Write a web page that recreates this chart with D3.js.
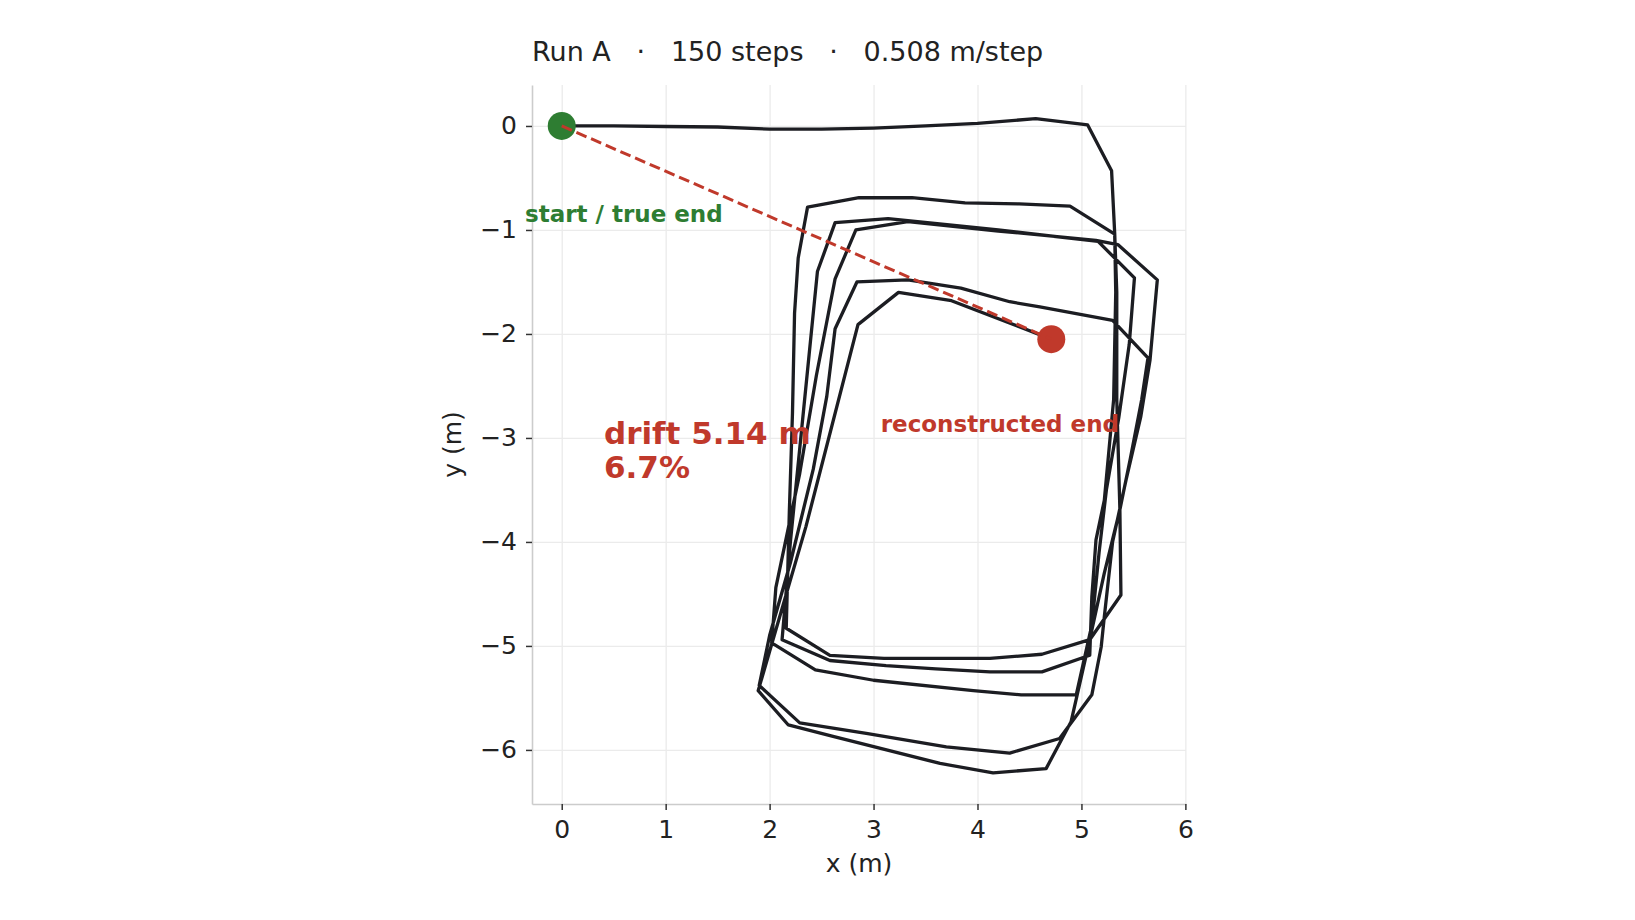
<html lang="en">
    <head>
        <meta charset="utf-8">
        <title>Run A drift</title>
        <style>
            body {
                margin: 0;
                background-color: white;
            }
            svg text {
                font-family: "DejaVu Sans", sans-serif;
                fill: #222222;
            }
            .grid line {
                stroke: #ebebeb;
                stroke-width: 1.3;
            }
            .grid path {
                display: none;
            }
            .axis path {
                stroke: #cccccc;
                stroke-width: 1.6;
            }
            .axis line {
                stroke: #333333;
                stroke-width: 1.5;
            }
            .axis text {
                font-size: 25px;
            }
            .track {
                fill: none;
                stroke: #1c1d22;
                stroke-width: 3.3;
                stroke-linejoin: round;
            }
        </style>
    </head>

    <body>
    </body>

    <script type="text/javascript" src="https://cdnjs.cloudflare.com/ajax/libs/d3/7.8.5/d3.min.js"></script>

    <script type="text/javascript">
// chart data (metres)
var title = "Run A   \u00b7   150 steps   \u00b7   0.508 m/step";
var xTicks = [0, 1, 2, 3, 4, 5, 6];
var yTicks = [0, -1, -2, -3, -4, -5, -6];

// reconstructed walk, one point per vertex
var pathX = [0, 0.5, 1.0, 1.5, 2.0, 2.5, 3.0, 3.5, 4.0, 4.56, 5.06,
             5.29, 5.32, 5.34, 5.34, 5.37, 5.38,
             5.08, 4.62, 4.12, 3.6, 3.1, 2.58, 2.16,
             2.19, 2.22, 2.24, 2.275, 2.365,
             2.86, 3.37, 3.88, 4.4, 4.89, 5.32,
             5.33, 5.31, 5.22, 5.14, 5.10, 5.08,
             4.62, 4.12, 3.6, 3.12, 2.58, 2.12,
             2.2, 2.3, 2.38, 2.46, 2.63,
             3.14, 3.33, 4.2, 5.16, 5.51,
             5.46, 5.36, 5.24, 5.17, 5.1, 4.95,
             4.42, 3.96, 3.0, 2.44, 2.02,
             2.06, 2.29, 2.45, 2.63, 2.83,
             3.33, 4.2, 5.14, 5.35, 5.73,
             5.66, 5.57, 5.43, 5.30, 5.22, 5.19, 5.10, 4.79,
             4.31, 3.7, 2.93, 2.29, 1.90,
             2.0, 2.2, 2.42, 2.55, 2.63, 2.84,
             3.33, 3.84, 4.31, 4.6, 5.30, 5.64,
             5.58, 5.47, 5.37, 5.22, 5.08, 4.90, 4.66,
             4.15, 3.64, 2.61, 2.18, 1.89,
             2.35, 2.6, 2.85,
             3.24, 3.75, 4.71];
var pathY = [0, 0, -0.005, -0.01, -0.03, -0.03, -0.02, 0, 0.025, 0.07, 0.01,
             -0.43, -1.03, -1.6, -2.63, -3.69, -4.51,
             -4.94, -5.08, -5.12, -5.12, -5.12, -5.09, -4.83,
             -3.7, -2.76, -1.8, -1.27, -0.78,
             -0.69, -0.69, -0.74, -0.75, -0.77, -1.04,
             -1.6, -2.63, -3.6, -3.98, -4.53, -5.09,
             -5.25, -5.25, -5.22, -5.19, -5.14, -4.94,
             -4.0, -3.0, -2.2, -1.40, -0.93,
             -0.89, -0.91, -1.0, -1.11, -1.46,
             -2.1, -2.8, -3.5, -4.1, -4.8, -5.47,
             -5.47, -5.43, -5.33, -5.23, -4.97,
             -4.44, -3.34, -2.4, -1.47, -1.0,
             -0.92, -1.01, -1.1, -1.14, -1.48,
             -2.25, -2.8, -3.4, -4.0, -4.72, -5.01, -5.47, -5.89,
             -6.03, -5.97, -5.84, -5.74, -5.38,
             -4.9, -4.2, -3.3, -2.6, -1.95, -1.50,
             -1.48, -1.56, -1.69, -1.74, -1.87, -2.23,
             -2.63, -3.2, -3.69, -4.3, -4.94, -5.73, -6.18,
             -6.22, -6.13, -5.87, -5.76, -5.43,
             -3.85, -2.88, -1.91,
             -1.60, -1.68, -2.05];

var trueEnd = [0, 0];
var recEnd = [4.71, -2.05];
var driftM = 5.14;
var driftPct = 6.7;

var fullWidth = 1635;
var fullHeight = 920;
var plot = {left: 532, right: 1186, top: 85, bottom: 804};

var svg = d3.select("body")
            .append("svg")
            .attr("width", fullWidth)
            .attr("height", fullHeight);

// equal metres per pixel on both axes
var xScale = d3.scaleLinear()
               .domain([-0.286, 6.006])
               .range([plot.left, plot.right]);
var yScale = d3.scaleLinear()
               .domain([-6.52, 0.394])
               .range([plot.bottom, plot.top]);

var fmt = d3.format("d");

// grid
svg.append("g")
   .attr("class", "grid")
   .attr("transform", "translate(0," + plot.bottom + ")")
   .call(d3.axisBottom(xScale).tickValues(xTicks)
           .tickSize(-(plot.bottom - plot.top)).tickFormat(""));
svg.append("g")
   .attr("class", "grid")
   .attr("transform", "translate(" + plot.left + ",0)")
   .call(d3.axisLeft(yScale).tickValues(yTicks)
           .tickSize(-(plot.right - plot.left)).tickFormat(""));

// axes
svg.append("g")
   .attr("class", "axis")
   .attr("transform", "translate(0," + plot.bottom + ")")
   .call(d3.axisBottom(xScale).tickValues(xTicks).tickFormat(fmt)
           .tickSize(6).tickSizeOuter(0).tickPadding(10));
svg.append("g")
   .attr("class", "axis")
   .attr("transform", "translate(" + plot.left + ",0)")
   .call(d3.axisLeft(yScale).tickValues(yTicks).tickFormat(fmt)
           .tickSize(6).tickSizeOuter(0).tickPadding(9));

svg.selectAll(".axis text").attr("fill", "#222222");

// trajectory
var walk = d3.range(pathX.length).map(function(i) { return [pathX[i], pathY[i]]; });
var line = d3.line()
             .x(function(d) { return xScale(d[0]); })
             .y(function(d) { return yScale(d[1]); });

svg.append("path")
   .datum(walk)
   .attr("class", "track")
   .attr("d", line);

// end points
svg.append("circle")
   .attr("cx", xScale(trueEnd[0])).attr("cy", yScale(trueEnd[1]))
   .attr("r", 14).attr("fill", "#2e7d32");
svg.append("circle")
   .attr("cx", xScale(recEnd[0])).attr("cy", yScale(recEnd[1]))
   .attr("r", 14).attr("fill", "#c0392b");

svg.append("path")
   .datum([trueEnd, recEnd])
   .attr("d", line)
   .attr("fill", "none")
   .attr("stroke", "#c0392b")
   .attr("stroke-width", 3)
   .attr("stroke-dasharray", "11,5");

// texts
svg.append("text")
   .attr("x", plot.left).attr("y", 61)
   .style("font-size", "27px")
   .style("white-space", "pre")
   .text(title);

svg.append("text")
   .attr("x", (plot.left + plot.right) / 2).attr("y", 872)
   .attr("text-anchor", "middle")
   .style("font-size", "25px")
   .text("x (m)");

svg.append("text")
   .attr("transform", "translate(461," + (plot.top + plot.bottom) / 2 + ") rotate(-90)")
   .attr("text-anchor", "middle")
   .style("font-size", "25px")
   .text("y (m)");

svg.append("text")
   .attr("x", 525).attr("y", 222)
   .style("font-size", "23px").style("font-weight", "bold")
   .style("fill", "#2e7d32")
   .text("start / true end");

svg.append("text")
   .attr("x", 1119).attr("y", 432)
   .attr("text-anchor", "end")
   .style("font-size", "23px").style("font-weight", "bold")
   .style("fill", "#c0392b")
   .text("reconstructed end");

var drift = svg.append("text")
   .style("font-size", "31px").style("font-weight", "bold")
   .style("fill", "#c0392b");
drift.append("tspan").attr("x", 604).attr("y", 444)
     .text("drift " + driftM.toFixed(2) + " m");
drift.append("tspan").attr("x", 604).attr("y", 478)
     .text(driftPct.toFixed(1) + "%");

    </script>
</html>
